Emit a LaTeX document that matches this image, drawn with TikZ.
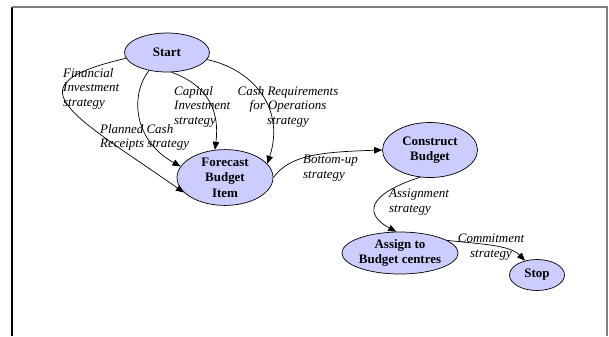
\documentclass[tikz,border=0pt]{standalone}
\usepackage{fontspec}
\setmainfont{Liberation Serif}
\usetikzlibrary{shapes.geometric,arrows.meta}
\definecolor{lavender}{RGB}{204,204,255}
\tikzset{
  stage/.style={ellipse, draw, line width=0.7bp, fill=lavender, align=center,
    inner sep=0pt, font=\bfseries\fontsize{13}{15.5}\selectfont},
  note/.style={inner sep=0pt, font=\itshape\fontsize{13}{14.5}\selectfont},
  flow/.style={-{Triangle[length=8bp,width=6.5bp]}, line width=0.7bp}
}
\begin{document}
\begin{tikzpicture}[x=1bp,y=-1bp]
  \useasboundingbox (0,0) rectangle (609,336);
  % frame
  \draw[line width=1.2bp] (12,336) -- (12,7);
  \draw[gray, line width=1.2bp] (12,7) -- (607,7) -- (607,336);
  % states
  \node[stage, minimum width=85bp, minimum height=39bp] (start) at (167,52.5) {Start};
  \node[stage, minimum width=96bp, minimum height=41bp] (forecast) at (225,177.5) {Forecast\\Budget\\Item};
  \node[stage, minimum width=95bp, minimum height=55bp] (construct) at (430,150) {Construct\\Budget};
  \node[stage, minimum width=95bp, minimum height=42bp] (assign) at (400,253) {Assign to\\Budget centres};
  \node[stage, minimum width=55bp, minimum height=31bp] (stop) at (537,275) {Stop};
  % labels
  \node[note, anchor=north west, align=left] (fin) at (63,68) {Financial\\Investment\\strategy};
  \node[note, anchor=north west, align=left] (plan) at (100,124) {Planned Cash\\Receipts strategy};
  \node[note, anchor=north west, align=left] (cap) at (174,86) {Capital\\Investment\\strategy};
  \node[note, anchor=north, align=center] (cash) at (288,86) {Cash Requirements\\for Operations\\strategy};
  \node[note, anchor=north west, align=left] (bottom) at (303,155) {Bottom-up\\strategy};
  \node[note, anchor=north west, align=left] (asg) at (389,189) {Assignment\\strategy};
  \node[note, anchor=north, align=center] (commit) at (491,234) {Commitment\\strategy};
  % transitions
  \begin{scope}[flow]
    \draw (start.188) .. controls (12,85) and (65,110) .. (forecast.200);
    \draw (start.225) .. controls (130,95) and (133,140) .. (forecast.166);
    \draw (start.283) .. controls (207,85) and (220,110) .. (forecast.110);
    \draw (start.-10) .. controls (255,70) and (285,110) .. (forecast.18);
    \draw (forecast.east) .. controls (290,155) and (320,152) .. (construct.west);
    \draw (construct.250) .. controls (365,195) and (365,215) .. (assign.100);
    \draw (assign.15) .. controls (480,244) and (510,245) .. (stop.130);
  \end{scope}
\end{tikzpicture}
\end{document}
